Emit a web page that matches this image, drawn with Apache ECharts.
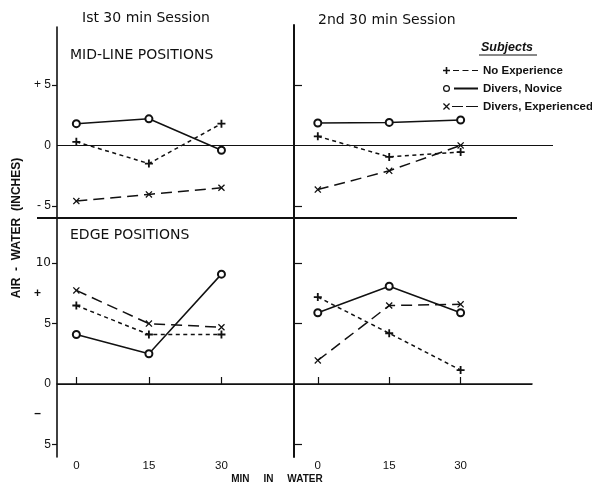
<!DOCTYPE html>
<html>
<head>
<meta charset="utf-8">
<script src="https://cdn.jsdelivr.net/npm/echarts@6/dist/echarts.min.js"></script>
<style>
html,body{margin:0;padding:0;background:#fff;}
#chart{width:592px;height:485px;}
</style>
</head>
<body>
<div id="chart"></div>
<script>
// ---- data ----
var minutes = [0, 15, 30];
var seriesNames = ['No Experience', 'Divers, Novice', 'Divers, Experienced'];
// Mid-line positions, 1st session
var midS1NoExp = [0.3, -1.5, 1.8];
var midS1Novice = [1.8, 2.2, -0.4];
var midS1Exp = [-4.6, -4.05, -3.5];
// Mid-line positions, 2nd session
var midS2NoExp = [0.75, -0.95, -0.55];
var midS2Novice = [1.85, 1.9, 2.1];
var midS2Exp = [-3.65, -2.1, 0.0];
// Edge positions, 1st session
var edgeS1NoExp = [6.5, 4.1, 4.1];
var edgeS1Novice = [4.1, 2.5, 9.1];
var edgeS1Exp = [7.75, 5.0, 4.7];
// Edge positions, 2nd session
var edgeS2NoExp = [7.2, 4.2, 1.15];
var edgeS2Novice = [5.9, 8.1, 5.9];
var edgeS2Exp = [1.95, 6.5, 6.6];

var xTickValues = [0, 15, 30];
var midTickValues = [-5, 0, 5];
var midTickLabels = ['- 5', '0', '+ 5'];
var edgeTickValues = [-5, 5, 10];
var edgeLabelValues = [-5, -2.5, 0, 5, 7.5, 10];
var edgeLabelTexts = ['5', '\u2013', '0', '5', '+', '10'];
var sessionTitles = ['Ist 30 min Session', '2nd 30 min Session'];
var panelTitles = ['MID-LINE POSITIONS', 'EDGE POSITIONS'];
var yTitle = 'AIR  -  WATER  (INCHES)';
var xTitle = 'MIN     IN     WATER';
var legendTitle = 'Subjects';

// ---- styling ----
var FONT = 'Liberation Sans, Arial, sans-serif';
var WIDE = 'DejaVu Sans, Liberation Sans, sans-serif';
var PLUS = 'path://M2.7,0H4.3V2.7H7V4.3H4.3V7H2.7V4.3H0V2.7H2.7Z';
var CROSS = 'path://M0,0.9L0.9,0L3.5,2.6L6.1,0L7,0.9L4.4,3.5L7,6.1L6.1,7L3.5,4.4L0.9,7L0,6.1L2.6,3.5Z';
var styles = [
  {symbol: PLUS, symbolSize: 8, lineType: [4, 3.5]},
  {symbol: 'emptyCircle', symbolSize: 7, lineType: 'solid'},
  {symbol: CROSS, symbolSize: 7, lineType: [11, 6]}
];
var legendIcons = [
  'path://M2.7,0H4.3V2.7H7V4.3H4.3V7H2.7V4.3H0V2.7H2.7Z M10,2.9H16V4.1H10Z M19.5,2.9H25.5V4.1H19.5Z M29,2.9H35V4.1H29Z',
  'path://M0,3.5A3.5,3.5 0 1 1 7,3.5A3.5,3.5 0 1 1 0,3.5Z M1.2,3.5A2.3,2.3 0 1 0 5.8,3.5A2.3,2.3 0 1 0 1.2,3.5Z M11,2.4H35V4.6H11Z',
  'path://M0,0.9L0.9,0L3.5,2.6L6.1,0L7,0.9L4.4,3.5L7,6.1L6.1,7L3.5,4.4L0.9,7L0,6.1L2.6,3.5Z M9,2.9H20V4.1H9Z M23,2.9H35V4.1H23Z'
];

function pairs(vals) { return minutes.map(function (m, i) { return [m, vals[i]]; }); }

var panels = [
  [midS1NoExp, midS1Novice, midS1Exp],
  [midS2NoExp, midS2Novice, midS2Exp],
  [edgeS1NoExp, edgeS1Novice, edgeS1Exp],
  [edgeS2NoExp, edgeS2Novice, edgeS2Exp]
];

var series = [];
panels.forEach(function (p, gi) {
  p.forEach(function (vals, si) {
    var s = {
      type: 'line', name: seriesNames[si], xAxisIndex: gi, yAxisIndex: gi,
      data: pairs(vals), symbol: styles[si].symbol, symbolSize: styles[si].symbolSize,
      showAllSymbol: true, animation: false, z: 3,
      lineStyle: {color: '#111', width: 1.5, type: styles[si].lineType},
      itemStyle: {color: '#111', borderColor: '#111', borderWidth: si === 1 ? 1.1 : 0},
      emphasis: {disabled: true}
    };
    if (si === 0) {
      s.markLine = {
        silent: true, symbol: ['none', 'none'], label: {show: false}, animation: false,
        lineStyle: {color: '#111', width: 1.2, type: 'solid'},
        data: [{yAxis: 0}]
      };
    }
    series.push(s);
  });
});

var grids = [
  {left: 57, top: 27, width: 237, height: 191},
  {left: 294, top: 25, width: 259, height: 193},
  {left: 57, top: 218, width: 237, height: 239},
  {left: 294, top: 218, width: 238, height: 239}
];

var axisLineStyle = {color: '#111', width: 1.6};
var xAxes = [
  {gridIndex: 0, type: 'value', min: -4, max: 45, show: false},
  {gridIndex: 1, type: 'value', min: -5, max: 49.4, show: false},
  {gridIndex: 2, type: 'value', min: -4, max: 45, splitLine: {show: false},
   axisLine: {show: true, lineStyle: axisLineStyle},
   axisTick: {show: true, inside: true, length: 7, customValues: xTickValues, lineStyle: {color: '#111', width: 1.2}},
   axisLabel: {customValues: xTickValues, color: '#111', fontSize: 11.5, fontFamily: FONT, margin: 3}},
  {gridIndex: 3, type: 'value', min: -5, max: 45, splitLine: {show: false},
   axisLine: {show: true, lineStyle: axisLineStyle},
   axisTick: {show: true, inside: true, length: 7, customValues: xTickValues, lineStyle: {color: '#111', width: 1.2}},
   axisLabel: {customValues: xTickValues, color: '#111', fontSize: 11.5, fontFamily: FONT, margin: 3}}
];

var yAxes = [
  {gridIndex: 0, type: 'value', min: -6, max: 9.79, splitLine: {show: false},
   axisLine: {show: true, onZero: false, lineStyle: axisLineStyle},
   axisTick: {show: true, length: 5, customValues: [-5, 5], lineStyle: {color: '#111', width: 1.2}},
   axisLabel: {customValues: midTickValues, color: '#111', fontSize: 12, fontFamily: FONT, margin: 6,
     formatter: function (v) { return midTickLabels[midTickValues.indexOf(v)]; }}},
  {gridIndex: 1, type: 'value', min: -6, max: 9.95, splitLine: {show: false},
   axisLine: {show: true, onZero: false, lineStyle: {color: '#111', width: 2}},
   axisTick: {show: true, inside: true, length: 8, customValues: [-5, 5], lineStyle: {color: '#111', width: 1.2}},
   axisLabel: {show: false}},
  {gridIndex: 2, type: 'value', min: -6.05, max: 13.75, splitLine: {show: false},
   axisLine: {show: true, onZero: false, lineStyle: axisLineStyle},
   axisTick: {show: true, length: 5, customValues: edgeTickValues, lineStyle: {color: '#111', width: 1.2}},
   axisLabel: {customValues: edgeLabelValues, color: '#111', fontSize: 12, fontFamily: FONT, margin: 6,
     formatter: function (v) {
       var t = edgeLabelTexts[edgeLabelValues.indexOf(v)];
       if (t === '10') return '{w|' + t + '}';
       return (t === '+' || t === '\u2013') ? '{s|' + t + '}' : t;
     },
     rich: {
       s: {fontSize: 12, fontWeight: 'bold', color: '#111', padding: [0, 10, 0, 0]},
       w: {fontSize: 12, color: '#111', fontFamily: WIDE}
     }}},
  {gridIndex: 3, type: 'value', min: -6.05, max: 13.75, splitLine: {show: false},
   axisLine: {show: true, onZero: false, lineStyle: {color: '#111', width: 2}},
   axisTick: {show: true, inside: true, length: 8, customValues: edgeTickValues, lineStyle: {color: '#111', width: 1.2}},
   axisLabel: {show: false}}
];

var titleStyle = {fontSize: 14, fontWeight: 'normal', color: '#111', fontFamily: WIDE};
var option = {
  backgroundColor: '#fff',
  animation: false,
  title: [
    {text: sessionTitles[0], left: 82, top: 11, textStyle: titleStyle, padding: 0},
    {text: sessionTitles[1], left: 318, top: 13, textStyle: titleStyle, padding: 0},
    {text: panelTitles[0], left: 70, top: 48, textStyle: titleStyle, padding: 0},
    {text: panelTitles[1], left: 70, top: 228, textStyle: titleStyle, padding: 0}
  ],
  legend: {
    orient: 'vertical', left: 443, top: 64, padding: 0, itemGap: 5,
    itemWidth: 35, itemHeight: 7, selectedMode: false,
    textStyle: {fontSize: 11.5, fontWeight: 'bold', color: '#111', fontFamily: FONT, lineHeight: 13},
    data: seriesNames.map(function (n, i) { return {name: n, icon: legendIcons[i], itemStyle: {color: '#111', borderWidth: 0}}; })
  },
  grid: grids,
  xAxis: xAxes,
  yAxis: yAxes,
  series: series,
  graphic: [
    {type: 'line', shape: {x1: 37, y1: 218, x2: 517, y2: 218}, style: {stroke: '#111', lineWidth: 2.2}, z: 10},
    {type: 'text', x: 17, y: 228, rotation: Math.PI / 2, style: {text: yTitle, fill: '#111', font: 'bold 12px ' + FONT, textAlign: 'center', textVerticalAlign: 'middle'}},
    {type: 'text', x: 277, y: 479, style: {text: xTitle, fill: '#111', font: 'bold 10px ' + FONT, textAlign: 'center', textVerticalAlign: 'middle'}},
    {type: 'text', x: 507, y: 48, style: {text: legendTitle, fill: '#111', font: 'italic bold 12.5px ' + FONT, textAlign: 'center', textVerticalAlign: 'middle'}},
    {type: 'line', shape: {x1: 479, y1: 55, x2: 537, y2: 55}, style: {stroke: '#111', lineWidth: 1}}
  ]
};

var chart = echarts.init(document.getElementById('chart'), null, {renderer: 'canvas'});
chart.setOption(option);
</script>
</body>
</html>
